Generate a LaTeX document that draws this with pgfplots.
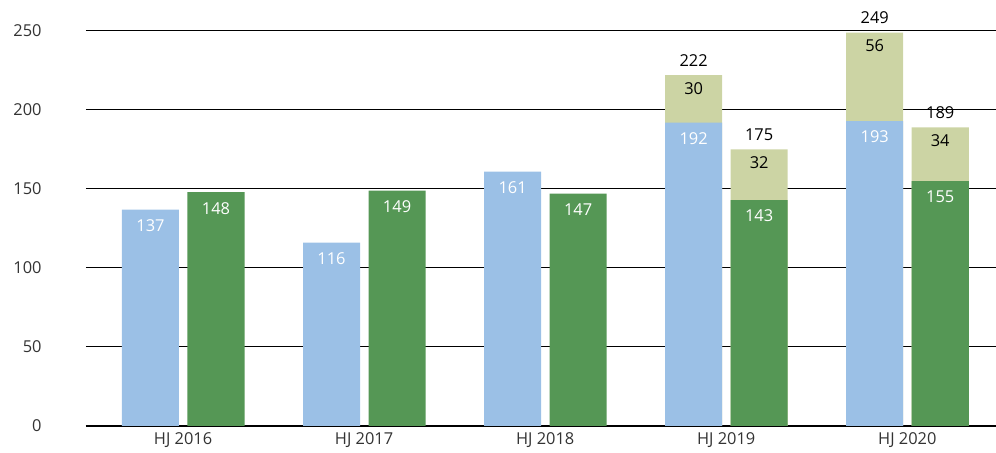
\documentclass[border=0pt]{standalone}
\usepackage{pgfplots}
\pgfplotsset{compat=1.18}
\usepackage{fontspec}
\setmainfont{Open Sans}
\definecolor{cblue}{RGB}{155,192,230}
\definecolor{cgreen}{RGB}{85,151,85}
\definecolor{clight}{RGB}{204,212,164}
\begin{document}
\fontsize{12.3pt}{14pt}\selectfont
\begin{tikzpicture}
\begin{axis}[
  scale only axis,
  width=682.5pt, height=296.25pt,
  xmin=-0.536, xmax=4.49,
  ymin=0, ymax=250,
  ybar,
  bar width=0.315,
  axis x line*=bottom,
  axis y line*=left,
  x axis line style={black, line width=0.9pt},
  y axis line style={draw=none},
  xtick={0,1,2,3,4},
  xticklabels={HJ 2016,HJ 2017,HJ 2018,HJ 2019,HJ 2020},
  ytick={0,50,100,150,200,250},
  major tick length=0pt,
  ymajorgrids,
  grid style={black, line width=0.75pt},
  tick label style={font=\fontsize{12.3pt}{14pt}\selectfont, text=black!80},
  yticklabel style={anchor=east, xshift=-29pt},
  xticklabel style={yshift=-1pt},
  /pgf/number format/assume math mode=true,
  clip=false,
]
% light stacked totals (drawn first, full height)
\addplot[bar shift=0pt, fill=clight, draw=none,
  nodes near coords, point meta=y,
  every node near coord/.append style={anchor=center, yshift=11pt, text=black, font=\fontsize{12.3pt}{14pt}\selectfont}]
  coordinates {(2.82,222) (3.82,249)};
\addplot[bar shift=0pt, fill=clight, draw=none,
  nodes near coords, point meta=y,
  every node near coord/.append style={anchor=center, yshift=11pt, text=black, font=\fontsize{12.3pt}{14pt}\selectfont}]
  coordinates {(3.182,175) (4.182,189)};
% segment labels
\addplot[bar shift=0pt, fill=none, draw=none,
  nodes near coords, point meta=explicit,
  every node near coord/.append style={anchor=center, yshift=-10pt, text=black, font=\fontsize{12.3pt}{14pt}\selectfont}]
  coordinates {(2.82,222) [30] (3.82,249) [56] (3.182,175) [32] (4.182,189) [34]};
% blue
\addplot[bar shift=0pt, fill=cblue, draw=none,
  nodes near coords, point meta=y,
  every node near coord/.append style={anchor=center, yshift=-12pt, text=white, font=\fontsize{12.3pt}{14pt}\selectfont}]
  coordinates {(-0.18,137) (0.82,116) (1.82,161) (2.82,192) (3.82,193)};
% green
\addplot[bar shift=0pt, fill=cgreen, draw=none,
  nodes near coords, point meta=y,
  every node near coord/.append style={anchor=center, yshift=-12pt, text=white, font=\fontsize{12.3pt}{14pt}\selectfont}]
  coordinates {(0.182,148) (1.182,149) (2.182,147) (3.182,143) (4.182,155)};
\end{axis}
\pgfresetboundingbox
\path (current axis.south west) ++(-64.5pt,-20.25pt) coordinate (bbA);
\path (current axis.north east) ++(0pt,23.25pt) coordinate (bbB);
\useasboundingbox (bbA) rectangle (bbB);
\end{tikzpicture}
\end{document}
